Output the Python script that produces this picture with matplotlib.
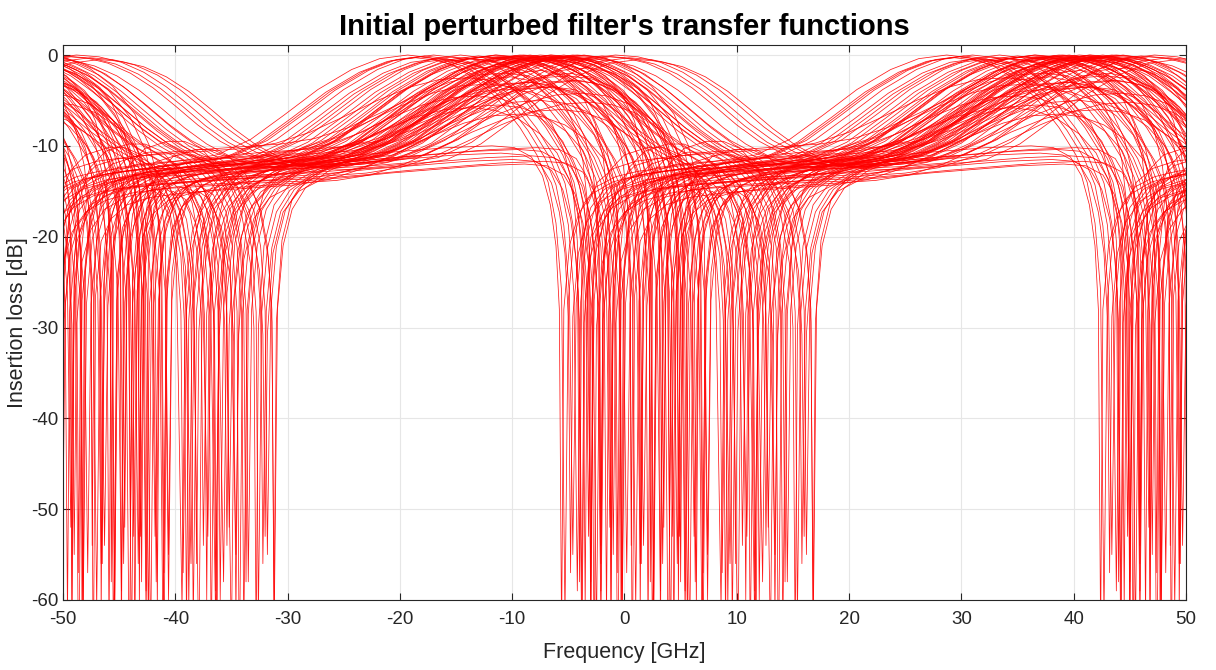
import numpy as np
import matplotlib
matplotlib.use("Agg")
import matplotlib.pyplot as plt

# ---------------- data ----------------
PERIOD = 48.0                      # GHz, repetition of the response
X_TICKS = [-50, -40, -30, -20, -10, 0, 10, 20, 30, 40, 50]
Y_TICKS = [-60, -50, -40, -30, -20, -10, 0]

# shared rising flank (offset from peak, dB) for the high-peak curves
RISE_R = [-20, -17, -14, -11, -8, -5, -2.5]
RISE_Y = [-11.6, -11.0, -9.3, -6.6, -3.8, -1.6, -0.4]

# per-shape profiles after the peak (offset GHz, dB); None = notch floor
T1_R = [0, 2, 4, 6, 8, 10, 12, 14, 16, 18, 20, 22, 24, 26, 28]
T1_Y = [0, -0.2, -0.8, -1.9, -3.5, -5.5, -7.6, -9.4, -10.7, -11.6, -12.0, -12.1, -12.0, -11.8, -11.6]

T2_R = [0, 2, 4, 6, 8, 10, 11.5, 12.5, 13.2, 13.7, 14, 14.3, 14.8, 15.6, 16.8, 18.5, 20.5, 23, 25.5, 28]
T2_Y = [0, -0.3, -1.1, -2.6, -4.8, -8.0, -11.0, -14.0, -18.5, -26, None, -27, -20, -16.5, -14.5, -13.4, -12.8, -12.4, -12.0, -11.6]

T3_R = [0, 2, 4, 6, 8, 10, 12, 14, 16, 17.5, 18.7, 19.8, 20.4, 20.8, 21, 21.3, 21.8, 22.6, 23.8, 25.8, 28]
T3_Y = [0, -0.2, -0.9, -2.1, -3.9, -6.0, -8.1, -9.9, -11.3, -12.6, -14.2, -17, -21, -28, None, -28, -21, -17, -14.6, -12.8, -11.6]

T4_R = [0, 2, 4, 6, 8, 9.3, 10.2, 10.7, 11, 11.3, 11.9, 12.8, 13.9, 15, 15.9, 16.5, 17, 17.3, 17.9, 18.8, 20.2, 22.5, 25, 28]
T4_Y = [0, -0.4, -1.5, -3.4, -6.5, -10, -14.5, -20, None, -24, -18.5, -15.8, -14.5, -15.4, -18, -23, None, -26, -19.5, -16.3, -14.3, -12.9, -12.1, -11.6]

T5_R = [-20, -16, -12, -8, -4, 0, 2, 3.5, 4.5, 5.2, 5.7, 6.0, 6.2, 6.4, 6.9, 7.7, 8.9, 10.7, 13, 16, 20, 24, 28]
T5_Y = [-11.9, -11.5, -11.0, -10.6, -10.2, -10.0, -10.2, -11.2, -13.3, -16.5, -21, -28, None, -28, -21, -17.5, -15.3, -14.0, -13.2, -12.7, -12.4, -12.1, -11.9]

T6_R = [-20, -17, -14, -11, -8, -5, -2.5, 0, 2, 4, 6, 7.5, 8.6, 9.4, 9.8, 10, 10.2, 10.7, 11.6, 13, 15, 18, 21, 24.5, 28]
T6_Y = [-11.8, -11.2, -10.0, -8.3, -6.5, -5.0, -4.2, -4.0, -4.3, -5.2, -6.9, -9.0, -12, -16, -22, None, -24, -18, -15.5, -14, -13.2, -12.7, -12.4, -12.1, -11.8]

T7_R = [-20, -17, -14, -11, -8, -5, -2.5, 0, 2, 4, 5.5, 6.6, 7.3, 7.7, 7.9, 8, 8.2, 8.7, 9.6, 11, 13, 14.5, 16, 17.5, 18.7,
        19.5, 19.8, 20, 20.2, 20.7, 21.6, 23, 25.5, 28]
T7_Y = [-11.7, -11.0, -9.6, -7.6, -5.4, -3.5, -2.3, -2.0, -2.5, -3.8, -5.8, -8.8, -12.5, -17, -23, None, -24, -17, -13.6, -11.8,
        -11.0, -11.0, -11.8, -13.8, -17.5, -23, -30, None, -30, -21, -16.5, -14.2, -12.6, -11.7]

# peak positions (GHz) of the individual curves, per shape
T1_C = [-7.5, -6.7, -6.0, -4.6, -3.2, -2.0, -1.3, -0.8, 0.4, 1.2]
T2_C = [-19.3, -18.6, -18.2, -17.8, -17.0, -16.5, -16.1, -15.3, -14.6, -14.2, -13.8, -13.0, -12.6, -12.3, -11.5,
        -10.8, -10.1, -9.7, -9.3, -8.6, -8.2, -7.8, -7.1, -6.6]
T3_C = [-12.3, -11.8, -11.4, -10.5, -9.8, -9.4, -9.0, -8.2, -7.3, -6.9, -6.5, -5.6, -5.2, -4.8, -4.2]
T4_C = [-8.4, -7.6, -6.9, -6.1, -5.4, -4.7, -4.0, -3.6]
T5_C = [-11.8, -11.0, -10.0, -9.4, -8.9, -8.3, -7.8, -7.2]
T6_C = [-14.0, -13.5, -13.0, -12.1, -11.2, -10.6, -10.2, -9.3, -8.5, -7.9, -7.4, -6.5, -5.6, -5.0, -4.6, -3.6, -3.0]
T7_C = [-11.0, -10.1, -9.2, -8.3, -7.4, -6.6, -5.7, -4.8, -4.0, -3.2]

# level of each curve relative to its shape (dB)
T1_G = [0, -0.3, -0.2, 0, -0.4, -0.1, -0.2, 0, -0.3, -0.5]
T2_G = [0, -0.3, -0.2, -0.1, 0, -0.4, -0.5, -0.2, 0, -0.3, -0.4, -0.1, -0.2, -0.6, 0,
        -0.2, -0.3, -0.1, 0, -0.5, -0.3, -0.1, -0.4, 0]
T3_G = [-0.2, -0.1, 0, -0.4, -0.1, -0.3, 0, -0.5, -0.2, -0.1, 0, -0.3, -0.2, -0.1, 0]
T4_G = [0, -0.3, -0.1, -0.5, 0, -0.2, -0.4, 0]
T5_G = [0, -0.8, -1.5, -0.4, -2.0, -1.1, -0.2, -1.7]
T6_G = [1.5, -1.8, -0.5, 0.8, -1.5, 2.0, 0.2, -2.5, 1.0, 0.6, -1.0, 0.5, -2.0, 1.7, 1.2, -0.2, -1.2]
T7_G = [0.8, -0.4, 1.2, -1.0, 0.3, -1.5, 1.5, 0, -0.8, 0.6]

# notch floor (dB) of each curve, per shape
T1_D = [None] * 10
T2_D = [-62, -55, -59, -66, -58, -64, -63, -52, -70, -61, -57, -61, -56, -54, -65,
        -59, -68, -53, -56, -62, -66, -53, -64, -60]
T3_D = [-57, -61, -63, -54, -66, -59, -60, -52, -69, -64, -58, -62, -56, -55, -64]
T4_D = [-61, -56, -67, -53, -63, -58, -65, -55]
T5_D = [-64, -57, -61, -53, -68, -59, -62, -55]
T6_D = [-58, -61, -65, -54, -62, -57, -60, -70, -56, -64, -63, -52, -66, -58, -59, -61, -57]
T7_D = [-63, -56, -60, -67, -54, -62, -58, -65, -53, -61]

SHAPES = [
    (RISE_R + T1_R, RISE_Y + T1_Y, T1_C, T1_G, T1_D),
    (RISE_R + T2_R, RISE_Y + T2_Y, T2_C, T2_G, T2_D),
    (RISE_R + T3_R, RISE_Y + T3_Y, T3_C, T3_G, T3_D),
    (RISE_R + T4_R, RISE_Y + T4_Y, T4_C, T4_G, T4_D),
    (T5_R, T5_Y, T5_C, T5_G, T5_D),
    (T6_R, T6_Y, T6_C, T6_G, T6_D),
    (T7_R, T7_Y, T7_C, T7_G, T7_D),
]

# ---------------- figure ----------------
plt.rcParams['font.family'] = ['Liberation Sans', 'DejaVu Sans']
plt.rcParams['axes.unicode_minus'] = False
fig = plt.figure(figsize=(12.16, 6.70), dpi=100)
ax = fig.add_axes([0.0518, 0.1045, 0.9235, 0.8283])

for r_list, y_list, centers, gains, depths in SHAPES:
    r = np.array(r_list, dtype=float)
    for c, g, d in zip(centers, gains, depths):
        y = np.array([d if v is None else v + g for v in y_list], dtype=float)
        xs, ys = [], []
        ks = [-2, -1, 0, 1, 2]
        for i, k in enumerate(ks):
            last = (i == len(ks) - 1)
            xx = r + c + PERIOD * k
            yy = y
            if not last:
                xx, yy = xx[:-1], yy[:-1]
            xs.append(xx)
            ys.append(yy)
        ax.plot(np.concatenate(xs), np.concatenate(ys), color='#ff0000', lw=0.55, alpha=0.9)

ax.set_xlim(-50, 50)
ax.set_ylim(-60, 1.1)
ax.set_xticks(X_TICKS)
ax.set_yticks(Y_TICKS)
ax.tick_params(direction='in', length=5, labelsize=13.5, colors='#262626', top=True, right=True)
ax.tick_params(axis='x', pad=8)
ax.grid(True, color='#e6e6e6', lw=0.8)
ax.set_axisbelow(True)
for s in ax.spines.values():
    s.set_color('#262626')
    s.set_linewidth(0.8)

ax.set_xlabel('Frequency [GHz]', fontsize=15.5, color='#262626', labelpad=10)
ax.set_ylabel('Insertion loss [dB]', fontsize=15.5, color='#262626', labelpad=2)
ax.set_title("Initial perturbed filter's transfer functions", fontsize=21, fontweight='bold', pad=7)

fig.savefig('out.png', dpi=100)
